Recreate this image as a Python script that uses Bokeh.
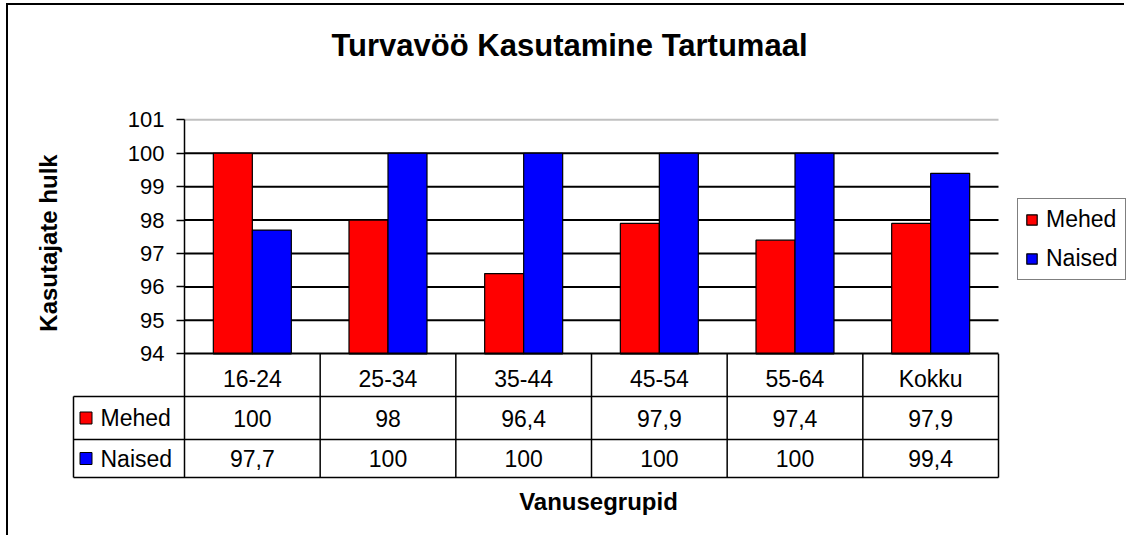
from bokeh.plotting import figure
from bokeh.models import (Range1d, FixedTicker, LinearAxis, Legend, LegendItem)
from bokeh.embed import file_html
from bokeh.resources import INLINE
from bokeh.core.properties import value

# ---- data ----
categories = ["16-24", "25-34", "35-44", "45-54", "55-64", "Kokku"]
series_names = ["Mehed", "Naised"]
mehed = [100, 98, 96.4, 97.9, 97.4, 97.9]
naised = [97.7, 100, 100, 100, 100, 99.4]
y_ticks = [94, 95, 96, 97, 98, 99, 100, 101]
colors = ["#FF0000", "#0000FF"]
title_text = "Turvavöö Kasutamine Tartumaal"
y_title = "Kasutajate hulk"
x_title = "Vanusegrupid"

FONT = "Liberation Sans"
FS = "23px"

# pixel geometry (canvas coords)
PX_X = 814 / 6.0      # px per category
PX_Y = 234 / 7.0      # px per unit
ymin_axis, ymax_axis = 94, 101
W, H = 1118, 532
frame_left = 62
frame_bottom = 475
axis_px_left = 176          # canvas x of category edge -0.5
axis_px_top = 114.3         # canvas y of 101

x0 = -0.5 - (axis_px_left - frame_left) / PX_X
x1 = x0 + (W - frame_left) / PX_X
y1 = ymax_axis + axis_px_top / PX_Y
y0 = y1 - frame_bottom / PX_Y


def ypix(py):
    return y1 - py / PX_Y


def xpix(px):
    return x0 + (px - frame_left) / PX_X


p = figure(width=W, height=H, output_backend="svg", toolbar_location=None,
           x_range=Range1d(x0, x1), y_range=Range1d(y0, y1),
           min_border_left=frame_left, min_border_right=0,
           min_border_top=0, min_border_bottom=H - frame_bottom,
           outline_line_color=None, background_fill_color="white",
           border_fill_color="white")
p.styles = {"margin-left": "6px", "margin-top": "3px",
            "border-left": "2px solid black", "border-top": "2px solid black"}
p.grid.visible = False

# row geometry for the data table
r_cat = ypix(391)
r_m = ypix(434)
r_n = ypix(472)
left_col = xpix(65)

# y axis at the category edge
ya = p.yaxis[0]
ya.fixed_location = -0.5
ya.bounds = (r_n, ymax_axis)
ya.ticker = FixedTicker(ticks=y_ticks)
ya.minor_tick_line_color = None
ya.major_tick_out = 8
ya.major_tick_in = 0
ya.major_label_standoff = 12
ya.major_label_text_font = FONT
ya.major_label_text_font_size = "22px"
ya.major_label_text_color = "black"
ya.axis_line_color = "black"
ya.axis_line_width = 1.5
ya.major_tick_line_width = 1.5

# x axis (category labels in the table header row)
xa = p.xaxis[0]
xa.fixed_location = ymin_axis
xa.bounds = (-0.5, len(categories) - 0.5)
xa.ticker = FixedTicker(ticks=list(range(len(categories))))
xa.major_label_overrides = {i: c for i, c in enumerate(categories)}
xa.minor_tick_line_color = None
xa.major_tick_out = 0
xa.major_tick_in = 0
xa.major_label_standoff = 12
xa.major_label_text_font = FONT
xa.major_label_text_font_size = FS
xa.major_label_text_color = "black"
xa.axis_line_color = "black"
xa.axis_line_width = 2

# axis titles
ylab = LinearAxis(axis_label=y_title, ticker=FixedTicker(ticks=[]),
                  axis_line_color=None, major_tick_line_color=None,
                  minor_tick_line_color=None, axis_label_text_font=FONT,
                  axis_label_text_font_size="24px", axis_label_text_font_style="bold",
                  axis_label_text_color="black",
                  axis_label_standoff=9, major_label_text_font_size="0px")
p.add_layout(ylab, "left")
xlab = LinearAxis(axis_label=x_title, ticker=FixedTicker(ticks=[]),
                  axis_line_color=None, major_tick_line_color=None,
                  minor_tick_line_color=None, axis_label_text_font=FONT,
                  axis_label_text_font_size="24px", axis_label_text_font_style="bold",
                  axis_label_text_color="black",
                  axis_label_standoff=7, major_label_text_font_size="0px")
p.add_layout(xlab, "below")

# chart title
p.text(x=[xpix(561)], y=[ypix(40)], text=[title_text], text_align="center",
       text_baseline="middle", text_font=value(FONT), text_font_size="31px",
       text_font_style="bold", text_color="black")

# gridlines
n = len(categories)
grid_black = [t for t in y_ticks if ymin_axis < t < ymax_axis]
p.segment(x0=[-0.5] * len(grid_black), x1=[n - 0.5] * len(grid_black),
          y0=grid_black, y1=grid_black, line_color="black", line_width=2)
p.segment(x0=[-0.5], x1=[n - 0.5], y0=[ymax_axis], y1=[ymax_axis],
          line_color="#c0c0c0", line_width=2)

# bars
bw = 39 / PX_X
xs = list(range(n))
rm = p.vbar(x=[x - bw / 2 for x in xs], width=bw, bottom=ymin_axis, top=mehed,
            fill_color=colors[0], line_color="black", line_width=1.2)
rn = p.vbar(x=[x + bw / 2 for x in xs], width=bw, bottom=ymin_axis, top=naised,
            fill_color=colors[1], line_color="black", line_width=1.2)

# data table lines
hy = [r_cat, r_m, r_n]
p.segment(x0=[left_col] * 3, x1=[n - 0.5] * 3, y0=hy, y1=hy,
          line_color="black", line_width=1.5)
vx = [i + 0.5 for i in range(n)]
p.segment(x0=vx, x1=vx, y0=[r_n] * n, y1=[ymin_axis] * n,
          line_color="black", line_width=1.5)
p.segment(x0=[left_col], x1=[left_col], y0=[r_n], y1=[r_cat],
          line_color="black", line_width=1.5)


def fmt(v):
    return ("%g" % v).replace(".", ",")


ym_c = (r_cat + r_m) / 2
yn_c = (r_m + r_n) / 2
p.text(x=xs, y=[ym_c] * n, text=[fmt(v) for v in mehed], text_align="center",
       text_baseline="middle", text_font=value(FONT), text_font_size=FS,
       text_color="black")
p.text(x=xs, y=[yn_c] * n, text=[fmt(v) for v in naised], text_align="center",
       text_baseline="middle", text_font=value(FONT), text_font_size=FS,
       text_color="black")

# table legend keys
kx = xpix(77.5)
tx = xpix(92)
p.scatter(x=[kx, kx], y=[ym_c, yn_c], marker="square", size=12,
          fill_color=colors, line_color="black", line_width=1)
p.text(x=[tx, tx], y=[ym_c, yn_c], text=series_names, text_align="left",
       text_baseline="middle", text_font=value(FONT), text_font_size=FS,
       text_color="black")

# legend (inside the extended frame, right of the plot area)
legend = Legend(items=[LegendItem(label=series_names[0], renderers=[rm]),
                       LegendItem(label=series_names[1], renderers=[rn])],
                location=(947, 200))
legend.border_line_color = "black"
legend.border_line_width = 1.5
legend.padding = 7
legend.spacing = 12
legend.glyph_width = 13
legend.glyph_height = 13
legend.label_standoff = 8
legend.label_height = 24
legend.label_text_font = FONT
legend.label_text_font_size = FS
legend.label_text_color = "black"
legend.background_fill_color = "white"
p.add_layout(legend, "center")

open("out.html", "w").write(file_html(p, INLINE))
